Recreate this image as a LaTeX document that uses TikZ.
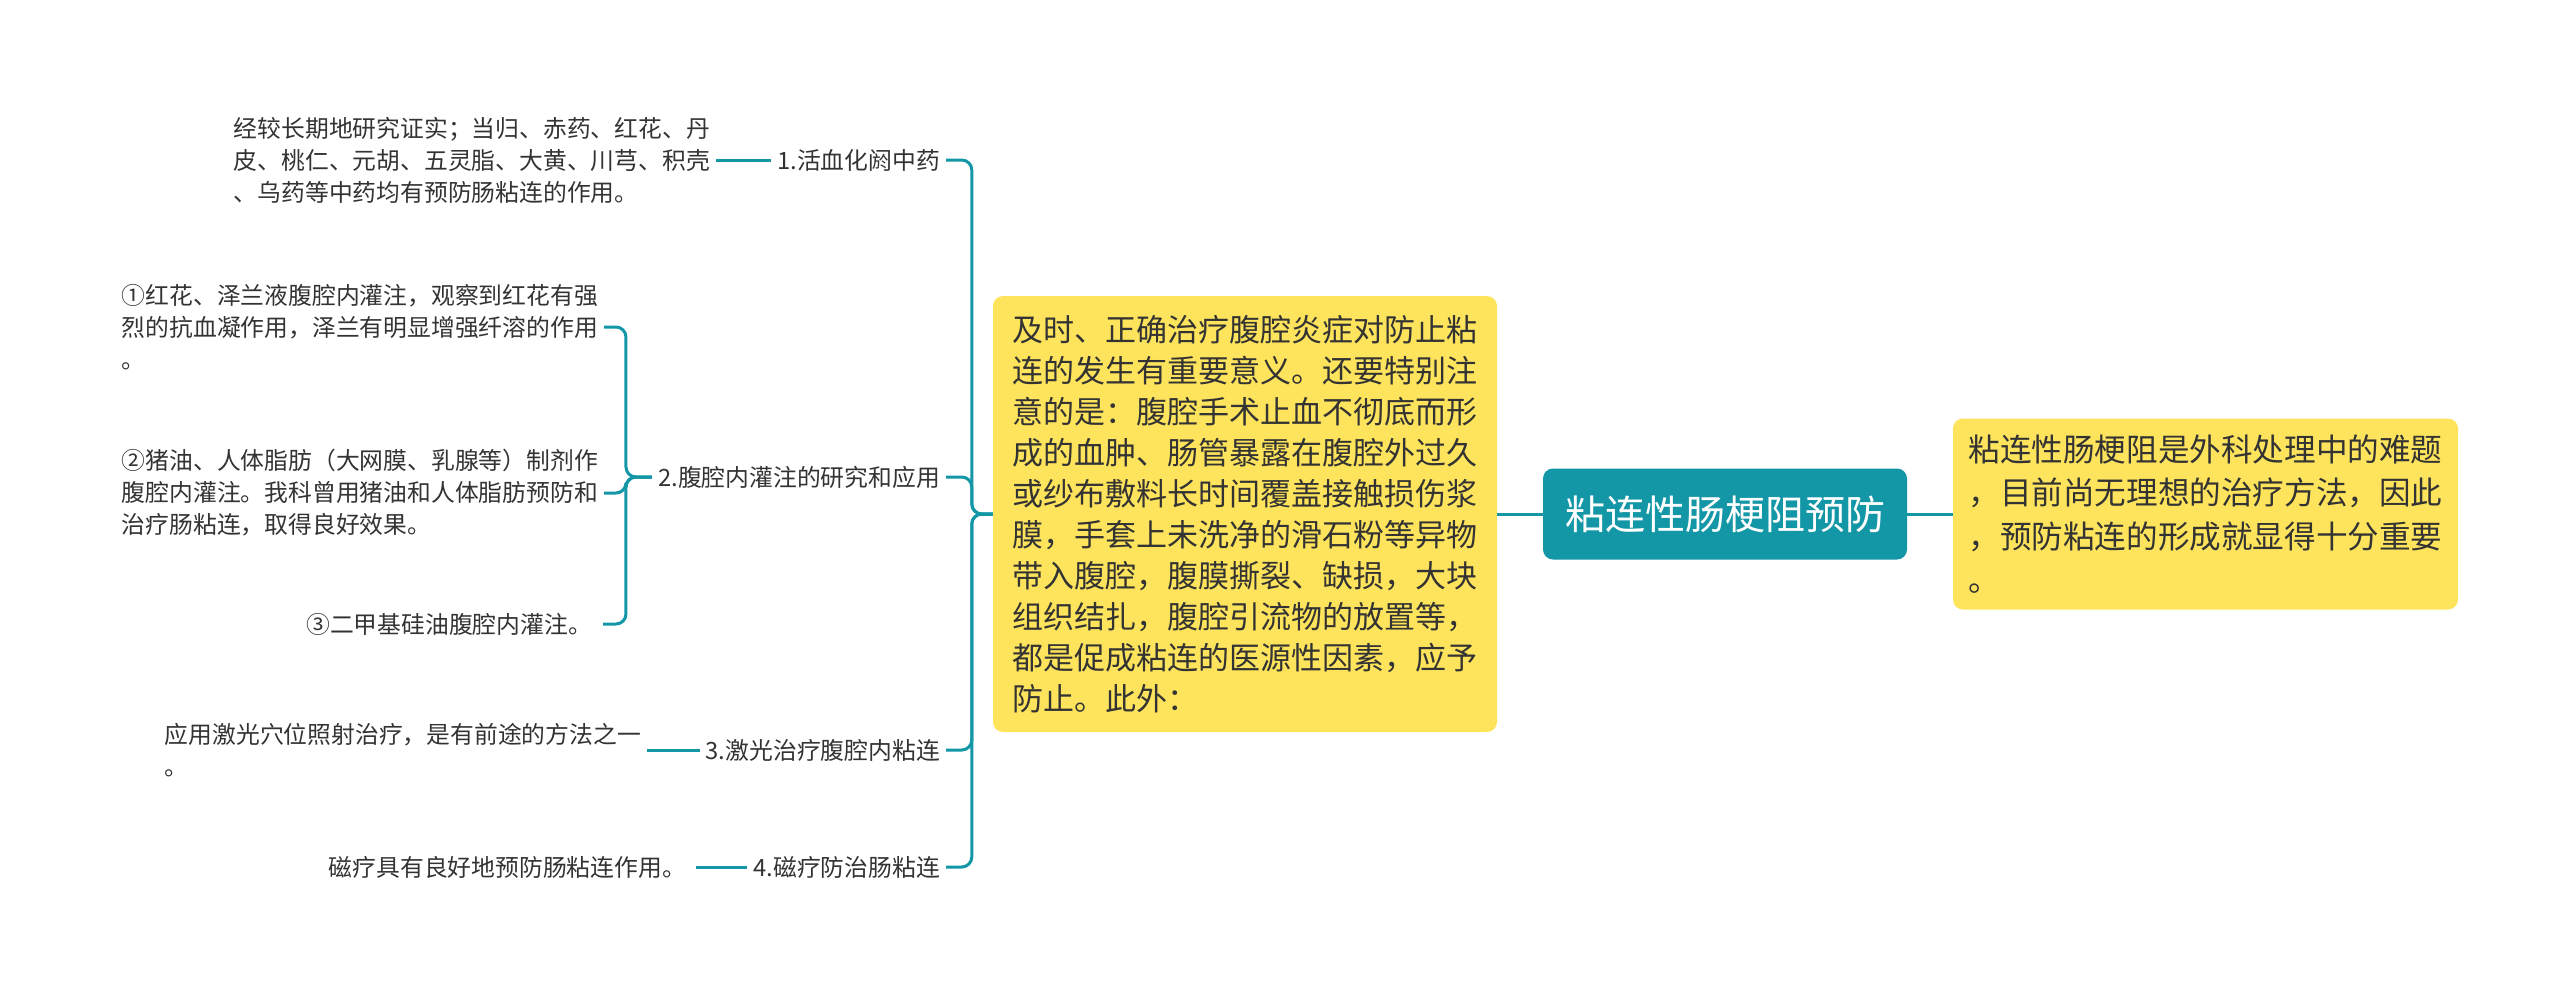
\documentclass[tikz,border=0pt]{standalone}
\usepackage{fontspec}
\setmainfont{Noto Sans CJK SC}
\usetikzlibrary{calc}
\definecolor{teal}{HTML}{1397A6}
\definecolor{note}{HTML}{FEE45C}
\definecolor{ink}{HTML}{333333}
\def\leaffont{\fontsize{23.8pt}{32pt}\selectfont}
\tikzset{
  link/.style={draw=teal, line width=3pt, rounded corners=10pt},
  leaf/.style={align=left, text=ink, inner sep=6pt, font=\leaffont},
  branch/.style={text=ink, inner sep=6pt, font=\leaffont},
  notebox/.style={fill=note, rounded corners=10pt, align=left, text=ink, inner sep=0pt},
}

\begin{document}
\begin{tikzpicture}[x=1pt, y=-1pt]
		%%%%% START %%%%%
		\useasboundingbox (0,0) rectangle (2560,997);
		
		% root and the two notes
		\node[fill=teal, rounded corners=10pt, text=white, minimum width=364, minimum height=91, font=\fontsize{40pt}{48pt}\selectfont] (root) at (1725,514) {粘连性肠梗阻预防};
		\node[notebox, minimum width=505, minimum height=191, font=\fontsize{31.6pt}{43.5pt}\selectfont] (intro) at (2205.5,514) {粘连性肠梗阻是外科处理中的难题\\，目前尚无理想的治疗方法，因此\\，预防粘连的形成就显得十分重要\\。};
		\node[notebox, minimum width=504, minimum height=436, font=\fontsize{31pt}{41pt}\selectfont] (cause) at (1245,514) {及时、正确治疗腹腔炎症对防止粘\\连的发生有重要意义。还要特别注\\意的是：腹腔手术止血不彻底而形\\成的血肿、肠管暴露在腹腔外过久\\或纱布敷料长时间覆盖接触损伤浆\\膜，手套上未洗净的滑石粉等异物\\带入腹腔，腹膜撕裂、缺损，大块\\组织结扎，腹腔引流物的放置等，\\都是促成粘连的医源性因素，应予\\防止。此外：};
		
		\draw[link] (cause.east) -- (root.west);
		\draw[link] (root.east) -- (intro.west);
		
		% branches
		\node[branch, anchor=east] (b1) at (946,160) {1.活血化阏中药};
		\node[branch, anchor=east] (b2) at (946,477) {2.腹腔内灌注的研究和应用};
		\node[branch, anchor=east] (b3) at (946,750) {3.激光治疗腹腔内粘连};
		\node[branch, anchor=east] (b4) at (946,867) {4.磁疗防治肠粘连};
		
		\foreach \b in {b1,b2,b3,b4}
			\draw[link] (cause.west) -- ++(-21,0) |- (\b.east);
		
		% leaves
		\node[leaf, anchor=east] (l1) at (716,160) {经较长期地研究证实；当归、赤药、红花、丹\\皮、桃仁、元胡、五灵脂、大黄、川芎、积壳\\、乌药等中药均有预防肠粘连的作用。};
		\node[leaf, anchor=east] (l2a) at (604,327) {①红花、泽兰液腹腔内灌注，观察到红花有强\\烈的抗血凝作用，泽兰有明显增强纤溶的作用\\。};
		\node[leaf, anchor=east] (l2b) at (604,493) {②猪油、人体脂肪（大网膜、乳腺等）制剂作\\腹腔内灌注。我科曾用猪油和人体脂肪预防和\\治疗肠粘连，取得良好效果。};
		\node[leaf, anchor=east, inner xsep=11pt] (l2c) at (603,624) {③二甲基硅油腹腔内灌注。};
		\node[leaf, anchor=east] (l3) at (647,750) {应用激光穴位照射治疗，是有前途的方法之一\\。};
		\node[leaf, anchor=east, inner xsep=10pt] (l4) at (696,867) {磁疗具有良好地预防肠粘连作用。};
		
		\draw[link] (l1.east) -- (b1.west);
		\foreach \l in {l2a,l2b,l2c}
			\draw[link] (b2.west) -- ++(-26,0) |- (\l.east);
		\draw[link] (l3.east) -- (b3.west);
		\draw[link] (l4.east) -- (b4.west);
		
		%%%%% END %%%%%
	\end{tikzpicture}
\end{document}
